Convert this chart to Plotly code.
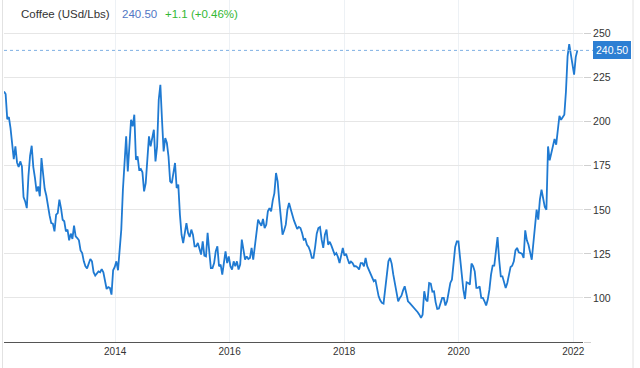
import pandas as pd
import plotly.graph_objects as go

# ---- data ----
start_date = "2012-01-23"
end_date = "2022-01-27"
prices = [
    217.2, 215.7, 201.5, 202.6, 196.4, 185.1, 178.8, 186.0, 176.9, 174.3, 177.5, 174.7,
    157.3, 154.8, 151.0, 169.0, 180.7, 186.4, 174.3, 168.1, 160.5, 163.3, 157.7, 179.4,
    171.8, 161.8, 158.0, 151.0, 146.7, 142.5, 142.2, 137.8, 147.3, 148.2, 155.8, 151.0,
    144.4, 143.5, 137.8, 138.8, 132.7, 136.5, 133.5, 141.0, 135.0, 134.0, 132.7, 127.0,
    125.5, 120.8, 118.0, 116.8, 119.8, 122.1, 120.8, 114.6, 112.7, 113.8, 115.1, 114.6,
    116.4, 114.6, 108.5, 105.1, 106.2, 105.7, 101.9, 115.7, 117.6, 120.8, 115.7, 128.4,
    138.8, 161.4, 180.3, 191.7, 171.8, 184.1, 201.1, 197.4, 204.0, 178.4, 180.3, 172.8,
    173.2, 171.3, 160.5, 165.2, 180.3, 191.7, 186.0, 190.2, 195.5, 177.5, 186.0, 212.5,
    221.0, 201.1, 183.2, 190.7, 187.9, 180.3, 166.2, 165.2, 170.9, 176.6, 162.4, 164.3,
    147.3, 135.9, 131.2, 137.8, 142.5, 136.9, 134.6, 138.8, 135.9, 129.3, 129.3, 131.2,
    128.4, 124.6, 132.1, 124.0, 123.6, 136.9, 126.5, 117.0, 117.0, 119.8, 126.5, 129.3,
    118.0, 118.9, 113.2, 119.8, 126.5, 119.8, 123.6, 118.0, 116.1, 120.8, 118.0, 120.8,
    116.1, 118.9, 133.1, 127.4, 121.7, 123.6, 122.1, 122.7, 128.4, 121.7, 130.2, 138.8,
    144.4, 142.5, 141.0, 144.8, 139.7, 141.6, 149.2, 151.0, 149.2, 155.4, 159.5, 170.9,
    166.2, 154.8, 144.4, 135.9, 138.4, 141.6, 150.1, 153.9, 150.5, 146.7, 144.0, 141.6,
    139.1, 140.3, 139.7, 136.9, 133.1, 133.5, 130.2, 128.9, 126.5, 122.7, 122.7, 128.9,
    136.5, 139.7, 140.3, 133.1, 128.4, 135.9, 138.8, 130.2, 131.9, 129.7, 127.0, 124.6,
    125.5, 123.3, 119.8, 123.6, 128.4, 124.0, 125.1, 122.1, 119.5, 120.6, 119.8, 118.0,
    118.0, 117.4, 116.1, 119.8, 119.8, 118.0, 122.7, 118.0, 115.7, 113.8, 111.9, 109.5,
    110.4, 105.7, 100.9, 98.7, 97.2, 96.8, 103.8, 113.8, 120.8, 122.7, 119.5, 113.2,
    107.6, 101.9, 98.1, 100.0, 101.3, 104.3, 106.6, 102.5, 98.1, 97.2, 96.2, 95.1,
    94.0, 92.8, 91.9, 90.5, 88.7, 90.5, 103.8, 99.1, 98.1, 108.5, 108.1, 103.6,
    103.8, 97.5, 93.8, 94.0, 97.2, 100.0, 100.0, 95.7, 98.1, 104.7, 108.5, 110.4,
    121.7, 128.9, 132.1, 132.1, 122.7, 111.3, 104.7, 99.4, 108.9, 108.5, 107.6, 119.5,
    118.0, 115.1, 105.7, 105.7, 106.6, 100.0, 100.0, 98.1, 95.7, 99.1, 104.7, 113.2,
    118.3, 118.3, 125.5, 134.6, 121.7, 112.3, 112.3, 108.5, 105.7, 108.5, 113.2, 117.6,
    118.3, 120.8, 127.0, 128.4, 125.9, 125.5, 125.1, 122.7, 138.4, 132.7, 130.2, 125.9,
    121.7, 131.2, 141.6, 150.1, 144.4, 155.8, 161.4, 156.1, 151.6, 150.1, 186.0, 178.1,
    182.2, 186.8, 190.2, 187.0, 194.5, 203.4, 201.1, 203.0, 204.0, 217.2, 237.1, 244.0,
    238.6, 232.9, 226.7, 236.7, 240.5,
]
dates = pd.date_range(start_date, end_date, periods=len(prices))

year_ticks = ["2014-01-01", "2016-01-01", "2018-01-01", "2020-01-01", "2022-01-01"]
year_labels = ["2014", "2016", "2018", "2020", "2022"]
price_ticks = [75, 100, 125, 150, 175, 200, 225, 250]
price_labels = ["", "100", "125", "150", "175", "200", "225", "250"]

title_text = "Coffee (USd/Lbs)"
last_text = "240.50"
change_text = "+1.1 (+0.46%)"
last_price = 240.5

FONT = "Liberation Sans, Arial, Helvetica, sans-serif"
LINE_BLUE = "#1f7ad2"

fig = go.Figure()
fig.add_trace(go.Scatter(
    x=dates, y=prices, mode="lines",
    line=dict(color=LINE_BLUE, width=1.8),
    hoverinfo="skip",
))

fig.update_layout(
    width=640, height=368,
    margin=dict(l=4, r=57, t=0, b=26),
    plot_bgcolor="white", paper_bgcolor="white",
    font=dict(family=FONT, color="#333333"),
    showlegend=False,
    xaxis=dict(
        type="date",
        range=["2012-01-23", "2022-03-04"],
        tickvals=year_ticks, ticktext=year_labels,
        showgrid=True, gridcolor="#edf1f5", gridwidth=1,
        showline=True, linecolor="#555555", linewidth=1.3,
        ticks="", zeroline=False,
        tickfont=dict(size=10, color="#333333", family=FONT),
    ),
    yaxis=dict(
        side="right",
        range=[75, 269.1],
        tickvals=price_ticks, ticktext=price_labels,
        showgrid=True, gridcolor="#e6e6e6", gridwidth=1,
        showline=False, zeroline=False,
        ticks="outside", ticklen=7, tickcolor="#d0d0d0",
        tickfont=dict(size=10.5, color="#333333", family=FONT),
    ),
)

# dotted last-price line
fig.add_shape(type="line", xref="paper", yref="y",
              x0=0, x1=1 + 10 / 579, y0=last_price, y1=last_price,
              line=dict(color="#7fb0e3", width=1, dash="dot"))

# frame lines
fig.add_shape(type="line", xref="paper", yref="paper",
              x0=-1.5 / 579, x1=-1.5 / 579, y0=-26 / 342, y1=1,
              line=dict(color="#e2e2e2", width=1))
fig.add_shape(type="line", xref="paper", yref="paper",
              x0=629 / 579, x1=629 / 579, y0=-26 / 342, y1=1,
              line=dict(color="#e2e2e2", width=1))

# last-price tag
fig.add_annotation(x=1, xref="paper", y=last_price, yref="y",
                   xanchor="left", yanchor="middle", xshift=10,
                   text=last_text, showarrow=False,
                   font=dict(size=10.5, color="white", family=FONT),
                   bgcolor="#2d7fd3", bordercolor="#2d7fd3",
                   borderwidth=1, borderpad=2)

# header
header = [
    (title_text, "#333333", 14.7),
    (last_text, "#5277c4", 116.3),
    (change_text, "#33b833", 159.3),
]
for txt, col, shift in header:
    fig.add_annotation(x=0, xref="paper", y=1, yref="paper",
                       xanchor="left", yanchor="middle",
                       xshift=shift, yshift=-14,
                       text=txt, showarrow=False,
                       font=dict(size=11.5, color=col, family=FONT))

fig.write_html("out.html",
               config={"displayModeBar": False, "staticPlot": True},
               post_script="document.body.style.margin='0';document.body.style.overflow='hidden';")
